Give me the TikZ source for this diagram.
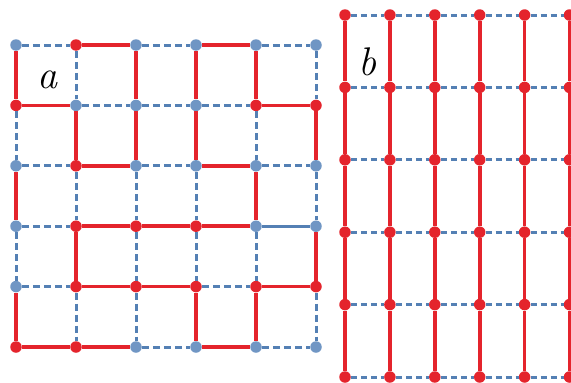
\documentclass[tikz,border=0pt]{standalone}
\usepackage{tikz}
\definecolor{bondred}{RGB}{228,36,44}
\definecolor{spinblue}{RGB}{112,150,196}
\definecolor{dashblue}{RGB}{84,128,180}

\begin{document}
\begin{tikzpicture}[
  x=1pt, y=-1pt,
  site/.style={circle, fill=#1, inner sep=0pt, minimum size=11.5pt},
  upsite/.style={site=bondred},
  downsite/.style={site=spinblue},
  bond/.style={bondred, line width=3.6pt},
  openbond/.style={dashblue, line width=3pt, dash pattern=on 7pt off 4pt},
  flatbond/.style={dashblue, line width=3.2pt},
  panel/.style={font=\fontsize{40}{40}\selectfont\itshape}
]
\useasboundingbox (0,0) rectangle (571,383);

% panel a: sites
\foreach \j/\row in {0/{downsite,upsite,downsite,downsite,downsite,downsite},
                     1/{upsite,downsite,downsite,downsite,upsite,upsite},
                     2/{downsite,upsite,downsite,downsite,downsite,downsite},
                     3/{downsite,upsite,upsite,upsite,downsite,downsite},
                     4/{downsite,upsite,upsite,upsite,upsite,upsite},
                     5/{upsite,upsite,downsite,downsite,downsite,downsite}}
  \foreach \s [count=\i from 0] in \row
    \node[\s] (a\i\j) at ({16+60*\i}, {45+60.4*\j}) {};

% panel a: horizontal bonds
\foreach \i/\j [evaluate=\i as \k using int(\i+1)] in
    {1/0,3/0, 0/1,4/1, 1/2,3/2, 1/3,2/3,3/3, 1/4,2/4,4/4, 0/5,1/5,3/5}
  \draw[bond] (a\i\j) -- (a\k\j);
\foreach \i/\j [evaluate=\i as \k using int(\i+1)] in
    {0/0,2/0,4/0, 1/1,2/1,3/1, 0/2,2/2,4/2, 0/3, 0/4,3/4, 2/5,4/5}
  \draw[openbond] (a\i\j) -- (a\k\j);
\draw[flatbond] (a43) -- (a53);

% panel a: vertical bonds
\foreach \i/\j [evaluate=\j as \k using int(\j+1)] in
    {0/0,0/2,0/4, 1/1,1/3, 2/0,2/1, 3/0,3/1,3/4, 4/0,4/2,4/4, 5/1,5/3}
  \draw[bond] (a\i\j) -- (a\i\k);
\foreach \i/\j [evaluate=\j as \k using int(\j+1)] in
    {0/1,0/3, 1/0,1/2,1/4, 2/2,2/3,2/4, 3/2,3/3, 4/1,4/3, 5/0,5/2,5/4}
  \draw[openbond] (a\i\j) -- (a\i\k);

\node[panel] (la) at (47,80) {a};

% panel b
\foreach \i in {0,...,5}
  \foreach \j in {0,...,5}
    \node[upsite] (b\i\j) at ({345+44.9*\i}, {15+72.4*\j}) {};

\foreach \i in {0,...,5} {
  \coordinate (bend\i) at ({345+44.9*\i}, 390);
  \foreach \j [evaluate=\j as \k using int(\j+1)] in {0,...,4}
    \draw[bond] (b\i\j) -- (b\i\k);
  \draw[bond] (b\i5) -- (bend\i);
}
\foreach \i [evaluate=\i as \k using int(\i+1)] in {0,...,4}
  \foreach \j in {0,...,5}
    \draw[openbond, dash pattern=on 6pt off 4pt] (b\i\j) -- (b\k\j);

\node[panel] (lb) at (367,62) {b};
\end{tikzpicture}
\end{document}
